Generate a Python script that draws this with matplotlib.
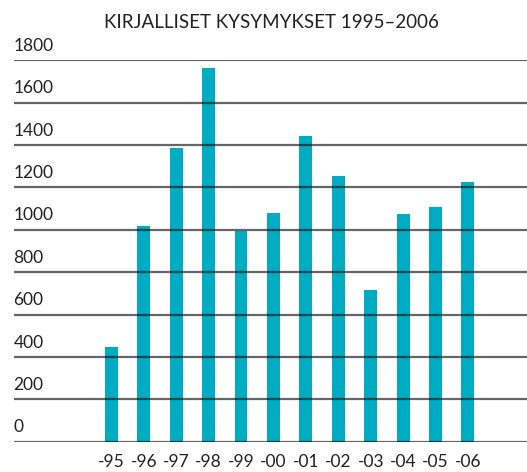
import matplotlib
matplotlib.use("Agg")
import matplotlib.pyplot as plt
import numpy as np

# Data
years = ["-95", "-96", "-97", "-98", "-99", "-00", "-01", "-02", "-03", "-04", "-05", "-06"]
questions = [447, 1017, 1386, 1763, 994, 1079, 1443, 1254, 716, 1074, 1107, 1225]
yticks = [0, 200, 400, 600, 800, 1000, 1200, 1400, 1600, 1800]

BAR_COLOR = "#00acc1"
W, H = 527, 472

plt.rcParams['font.family'] = ['Lato', 'DejaVu Sans']

fig = plt.figure(figsize=(W / 100, H / 100), dpi=100)
ax = fig.add_axes([14 / W, (H - 441.7) / H, 1 - 14 / W, (441.7 - 60.3) / H])

x = np.arange(len(years))
ax.bar(x, questions, width=0.4, color=BAR_COLOR, zorder=2)

# gridlines drawn over the bars
for v in yticks:
    ax.axhline(v, color="black", alpha=0.6, lw=1.6, zorder=3)
    ax.text(-0.001, v + 30, str(v), transform=ax.get_yaxis_transform(),
            ha="left", va="bottom", fontsize=12.5, color="#222222")

ax.set_xlim(-3.0, 12.82)
ax.set_ylim(0, 1800)
ax.set_yticks([])
ax.set_xticks(x)
ax.set_xticklabels(years, fontsize=12.5, color="#222222")
ax.tick_params(axis="x", length=0, pad=9)
for s in ax.spines.values():
    s.set_visible(False)

fig.text(271 / W, 1 - 22 / H, "KIRJALLISET KYSYMYKSET 1995–2006",
         ha="center", va="center", fontsize=13.5, color="#222222")

fig.savefig("out.png", dpi=100)
